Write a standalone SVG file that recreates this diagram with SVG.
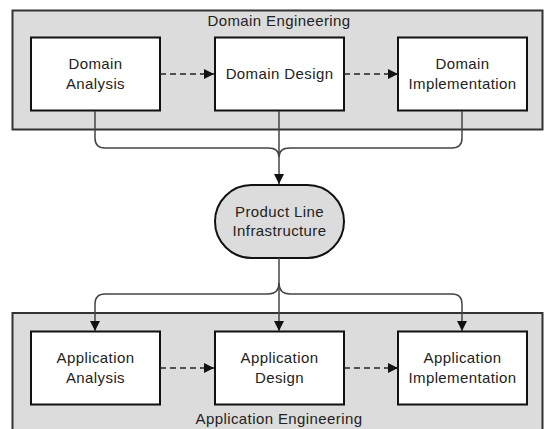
<svg xmlns="http://www.w3.org/2000/svg" width="545" height="429" viewBox="0 0 545 429">
<style>
.grp{fill:#dcdcdc;stroke:#333;stroke-width:2}
.box{fill:#fff;stroke:#111;stroke-width:2}
.pill{fill:#dcdcdc;stroke:#111;stroke-width:2}
text{font-family:"Liberation Sans",Arial,sans-serif;font-size:15px;fill:#222;text-anchor:middle;letter-spacing:0.4px}
.c{fill:none;stroke:#444;stroke-width:1.5}
.d{fill:none;stroke:#222;stroke-width:1.5;stroke-dasharray:6,4}
</style>
<defs>
<marker id="ah" markerUnits="userSpaceOnUse" markerWidth="12" markerHeight="12" refX="10" refY="5" orient="auto">
<path d="M0,0 L10,5 L0,10 Z" fill="#111"/>
</marker>
</defs>
<g id="domain-engineering">
<rect class="grp" x="12.5" y="10.5" width="530" height="119"/>
<text x="279" y="26">Domain Engineering</text>
</g>
<g id="application-engineering">
<rect class="grp" x="12.5" y="313" width="530" height="130"/>
<text x="279" y="424">Application Engineering</text>
</g>
<g id="domain-analysis">
<rect class="box" x="31" y="37.5" width="129" height="73"/>
<text x="95.5" y="68.5">Domain</text>
<text x="95.5" y="88.5">Analysis</text>
</g>
<g id="domain-design">
<rect class="box" x="215" y="37.5" width="129" height="73"/>
<text x="279.5" y="79">Domain Design</text>
</g>
<g id="domain-implementation">
<rect class="box" x="398" y="37.5" width="129" height="73"/>
<text x="462.5" y="68.5">Domain</text>
<text x="462.5" y="88.5">Implementation</text>
</g>
<g id="product-line-infrastructure">
<rect class="pill" x="215" y="185" width="129" height="73" rx="36.5" ry="36.5"/>
<text x="279.5" y="216.5">Product Line</text>
<text x="279.5" y="236">Infrastructure</text>
</g>
<g id="application-analysis">
<rect class="box" x="31" y="331.5" width="129" height="73"/>
<text x="95.5" y="363">Application</text>
<text x="95.5" y="383">Analysis</text>
</g>
<g id="application-design">
<rect class="box" x="215" y="331.5" width="129" height="73"/>
<text x="279.5" y="363">Application</text>
<text x="279.5" y="383">Design</text>
</g>
<g id="application-implementation">
<rect class="box" x="398" y="331.5" width="129" height="73"/>
<text x="462.5" y="363">Application</text>
<text x="462.5" y="383">Implementation</text>
</g>
<g id="connectors">
<path class="d" d="M160,74 L214,74" marker-end="url(#ah)"/>
<path class="d" d="M344,74 L398,74" marker-end="url(#ah)"/>
<path class="d" d="M160,368 L214,368" marker-end="url(#ah)"/>
<path class="d" d="M344,368 L398,368" marker-end="url(#ah)"/>
<path class="c" d="M95,111 L95,138 Q95,148 105,148 L268,148 Q279,148 279,157"/>
<path class="c" d="M462,111 L462,138 Q462,148 452,148 L290,148 Q279,148 279,157"/>
<path class="c" d="M279,111 L279,184" marker-end="url(#ah)"/>
<path class="c" d="M279,258 L279,331" marker-end="url(#ah)"/>
<path class="c" d="M279,283 Q279,294 268,294 L105,294 Q95,294 95,304 L95,331" marker-end="url(#ah)"/>
<path class="c" d="M279,283 Q279,294 290,294 L452,294 Q462,294 462,304 L462,331" marker-end="url(#ah)"/>
</g>
</svg>
